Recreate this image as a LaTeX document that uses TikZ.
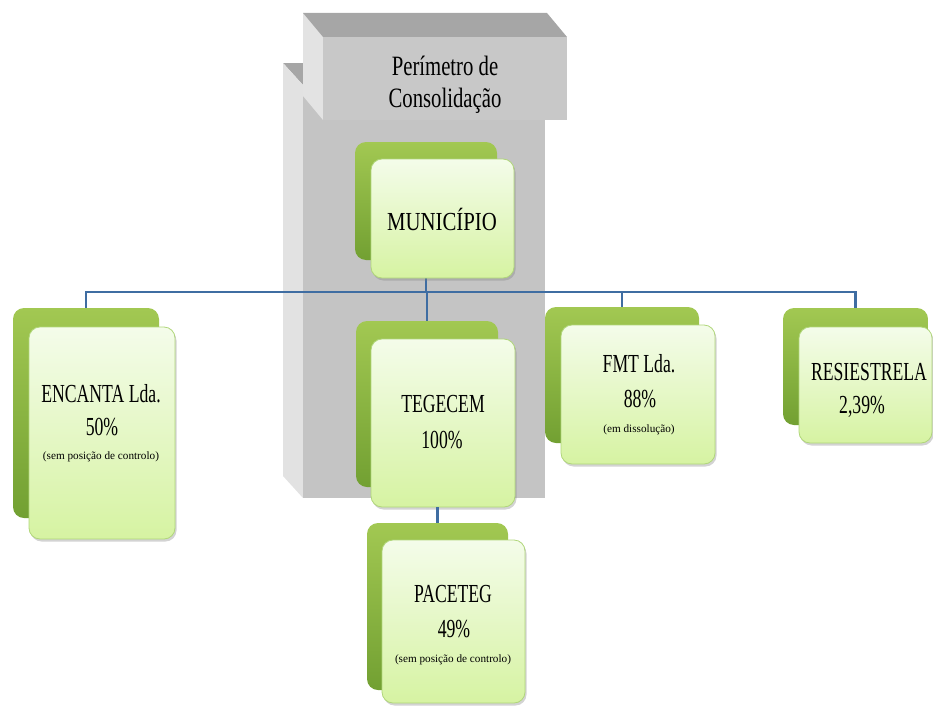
\documentclass[tikz,border=0pt]{standalone}
\usepackage{fontspec}
\setmainfont{Liberation Serif}
\newfontfamily\fA[FakeStretch=0.68]{Liberation Serif}
\newfontfamily\fM[FakeStretch=0.8]{Liberation Serif}
\newfontfamily\fH[FakeStretch=0.74]{Liberation Serif}
\usetikzlibrary{shadows}

\definecolor{gTop}{HTML}{A2C852}
\definecolor{gBot}{HTML}{72A032}
\definecolor{fTop}{HTML}{F4FCEA}
\definecolor{fBot}{HTML}{D6F3A2}
\definecolor{fEdge}{HTML}{B0D67A}
\definecolor{lineblue}{HTML}{3F6DA2}
\definecolor{grayFront}{HTML}{C4C4C4}
\definecolor{grayHead}{HTML}{C8C8C8}
\definecolor{grayTop}{HTML}{A6A6A6}
\definecolor{grayLeft}{HTML}{E2E2E2}

\begin{document}
\begin{tikzpicture}[x=1pt,y=-1pt,
  backbox/.style={rectangle, rounded corners=11pt, top color=gTop, bottom color=gBot, draw=none, inner sep=0pt},
  frontbox/.style={rectangle, rounded corners=11pt, top color=fTop, bottom color=fBot, draw=fEdge, line width=0.8pt, inner sep=0pt,
    drop shadow={shadow xshift=1.5pt, shadow yshift=-2.5pt, opacity=0.35}},
  conn/.style={draw=lineblue, line width=2.8pt},
  bigtxt/.style={font=\fontsize{26}{30}\selectfont\fA, text=black, anchor=base, inner sep=0pt},
  muntxt/.style={font=\fontsize{26}{30}\selectfont\fM, text=black, anchor=base, inner sep=0pt},
  hdrtxt/.style={font=\fontsize{28}{32}\selectfont\fH, text=black, anchor=base, inner sep=0pt},
  smalltxt/.style={font=\fontsize{11.2}{13}\selectfont, text=black, anchor=base, inner sep=0pt}]
\useasboundingbox (0,0) rectangle (933,709);

% grey consolidation perimeter (3D box)
\fill[grayTop] (283,63) -- (525,63) -- (545,85) -- (303,85) -- cycle;
\fill[grayLeft] (283,63) -- (303,85) -- (303,498) -- (283,476) -- cycle;
\fill[grayFront] (303,85) rectangle (545,498);
\fill[grayLeft!95!white] (303,13) -- (323,37) -- (323,120) -- (303,96) -- cycle;
\fill[grayTop] (303,13) -- (547,13) -- (567,37) -- (323,37) -- cycle;
\fill[grayHead] (323,37) rectangle (567,120);
\node[hdrtxt] (h1) at (445,75) {Perímetro de};
\node[hdrtxt] (h2) at (445,107) {Consolidação};

% back boxes
\node[backbox, minimum width=142pt, minimum height=118pt] (munB) at (426,201) {};
\node[backbox, minimum width=146pt, minimum height=210pt] (encB) at (86,413) {};
\node[backbox, minimum width=142pt, minimum height=166pt] (tegB) at (427,404) {};
\node[backbox, minimum width=141pt, minimum height=167pt] (pacB) at (437.5,606.5) {};
\node[backbox, minimum width=154pt, minimum height=136pt] (fmtB) at (622,375) {};
\node[backbox, minimum width=145pt, minimum height=117pt] (resB) at (855.5,366.5) {};

\coordinate (bus) at (0,292);

% connectors (behind front boxes)
\draw[conn] (munB.center) -- (munB.center |- bus);
\draw[conn] (encB.north) -- (encB.north |- bus) -- (resB.north |- bus) -- (resB.north);
\draw[conn] (tegB.north) -- (tegB.north |- bus);
\draw[conn] (fmtB.north) -- (fmtB.north |- bus);

% front boxes
\node[frontbox, minimum width=143pt, minimum height=119pt] (munF) at (442.5,218.5) {};
\node[frontbox, minimum width=146pt, minimum height=212pt] (encF) at (102,433) {};
\node[frontbox, minimum width=144pt, minimum height=168pt] (tegF) at (443,423) {};
\draw[conn] (pacB.north) -- (pacB.north |- tegF.south);
\node[frontbox, minimum width=143pt, minimum height=163pt] (pacF) at (453.5,621.5) {};
\node[frontbox, minimum width=154pt, minimum height=139pt] (fmtF) at (638,394.5) {};
\node[frontbox, minimum width=133pt, minimum height=116pt] (resF) at (865.5,385) {};

% texts
\node[muntxt] (t-mun) at (442,230) {MUNICÍPIO};

\node[bigtxt] (t-enc1) at (101,402) {ENCANTA Lda.};
\node[bigtxt] (t-enc2) at (102,435) {50\%};
\node[smalltxt] (t-enc3) at (101,459) {(sem posição de controlo)};

\node[bigtxt] (t-teg1) at (443,412) {TEGECEM};
\node[bigtxt] (t-teg2) at (442,448) {100\%};

\node[bigtxt] (t-pac1) at (453,602) {PACETEG};
\node[bigtxt] (t-pac2) at (454,637) {49\%};
\node[smalltxt] (t-pac3) at (453,662) {(sem posição de controlo)};

\node[bigtxt] (t-fmt1) at (639,372) {FMT Lda.};
\node[bigtxt] (t-fmt2) at (640,407) {88\%};
\node[smalltxt] (t-fmt3) at (639,432) {(em dissolução)};

\node[bigtxt] (t-res1) at (869,380) {RESIESTRELA};
\node[bigtxt] (t-res2) at (862,413) {2,39\%};
\end{tikzpicture}
\end{document}
